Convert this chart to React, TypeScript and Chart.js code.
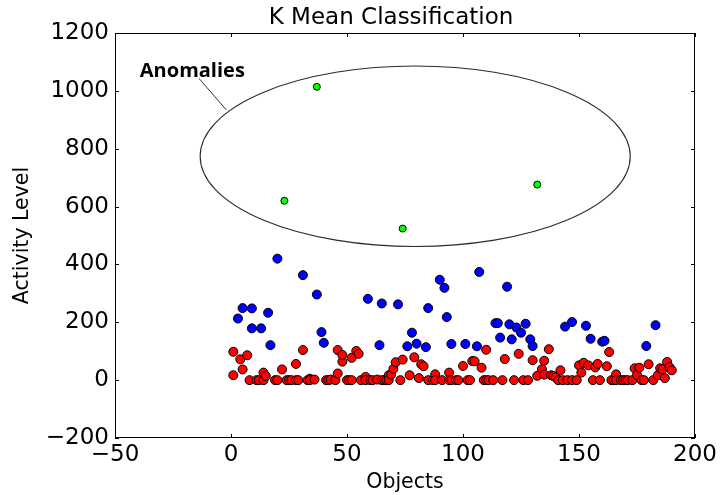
import React, { useEffect, useRef } from "react";
import { Chart, registerables } from "chart.js";

Chart.register(...registerables);

// Cluster 1 (low activity) — red
const redPoints: [number, number][] = [
  [1, 17], [1, 98], [4, 72], [5, 37], [7, 86], [8, 0], [11, 0], [12, 0], [14, 26], [14, 0],
  [15, 14], [19, 0], [20, 0], [22, 37], [24, 0], [25, 0], [26, 0], [28, 56], [28, 0], [29, 0],
  [31, 104], [33, 0], [34, 5], [34, 0], [36, 2], [41, 0], [42, 0], [43, 2], [45, 0], [46, 23],
  [46, 104], [48, 64], [48, 87], [50, 0], [51, 0], [52, 77], [52, 0], [54, 101], [55, 91], [56, 0],
  [58, 11], [58, 0], [60, 0], [61, 0], [63, 2], [65, 0], [66, 0], [67, 0], [68, 17], [68, 0],
  [69, 19], [70, 39], [71, 62], [73, 0], [74, 71], [77, 17], [79, 79], [81, 7], [82, 55], [83, 48],
  [85, 0], [87, 0], [88, 20], [88, 0], [91, 0], [94, 26], [94, 0], [95, 0], [97, 0], [98, 0],
  [100, 49], [102, 0], [103, 0], [104, 66], [105, 65], [108, 43], [109, 0], [110, 105], [110, 0], [111, 0],
  [113, 0], [117, 0], [118, 73], [122, 0], [124, 91], [126, 0], [128, 0], [130, 69], [132, 15], [134, 38],
  [135, 67], [135, 19], [137, 107], [138, 17], [139, 14], [140, 10], [141, 0], [142, 34], [143, 0], [145, 0],
  [147, 0], [149, 0], [150, 51], [151, 26], [152, 60], [154, 51], [156, 0], [157, 44], [158, 56], [159, 0],
  [162, 48], [163, 97], [164, 0], [165, 0], [166, 20], [166, 0], [168, 0], [169, 0], [170, 0], [171, 0],
  [173, 0], [174, 41], [175, 18], [176, 43], [177, 0], [178, 0], [180, 55], [182, 0], [184, 17], [185, 41],
  [186, 37], [187, 7], [188, 63], [189, 45], [190, 34],
];

// Cluster 2 (medium activity) — blue
const bluePoints: [number, number][] = [
  [3, 213], [5, 249], [9, 248], [9, 179], [13, 179], [16, 233], [17, 121], [20, 420], [31, 363], [37, 296],
  [39, 166], [40, 129], [59, 281], [64, 121], [65, 265], [72, 262], [76, 117], [78, 164], [80, 126], [84, 114],
  [85, 249], [90, 347], [92, 319], [93, 218], [95, 125], [101, 125], [106, 117], [107, 374], [114, 197], [115, 197],
  [116, 147], [119, 323], [120, 193], [121, 141], [123, 182], [125, 164], [127, 195], [129, 141], [130, 118], [144, 185],
  [147, 201], [153, 188], [155, 143], [160, 133], [161, 136], [179, 118], [183, 190],
];

// Cluster 3 (anomalies) — green
const greenPoints: [number, number][] = [
  [37, 1014], [23, 620], [74, 524], [132, 676],
];

const xTicks = [-50, 0, 50, 100, 150, 200];
const yTicks = [-200, 0, 200, 400, 600, 800, 1000, 1200];

const TITLE = "K Mean Classification";
const X_LABEL = "Objects";
const Y_LABEL = "Activity Level";
const ANNOTATION_TEXT = "Anomalies";

// Annotation geometry in data coordinates
const ELLIPSE = { cx: 79.4, cy: 774, rx: 92.7, ry: 312 };
const ANNOTATION_TEXT_AT = { x: -39.3, y: 1066 };
const POINTER = { x1: -13.8, y1: 1043, x2: -2.0, y2: 934 };

const FONT = '"DejaVu Sans", sans-serif';

const toXY = (arr: [number, number][]) => arr.map(([x, y]) => ({ x, y }));
const minus = (v: number) => String(v).replace("-", "\u2212");

const decorPlugin = {
  id: "decor",
  afterDatasetsDraw(chart: any) {
    const { ctx, chartArea: a, scales } = chart;
    const xs = scales.x;
    const ys = scales.y;
    ctx.save();

    // ellipse
    const cx = xs.getPixelForValue(ELLIPSE.cx);
    const cy = ys.getPixelForValue(ELLIPSE.cy);
    const rx = Math.abs(xs.getPixelForValue(ELLIPSE.cx + ELLIPSE.rx) - cx);
    const ry = Math.abs(ys.getPixelForValue(ELLIPSE.cy + ELLIPSE.ry) - cy);
    ctx.beginPath();
    ctx.ellipse(cx, cy, rx, ry, 0, 0, Math.PI * 2);
    ctx.strokeStyle = "#2a2a2a";
    ctx.lineWidth = 1.1;
    ctx.stroke();

    // pointer
    ctx.beginPath();
    ctx.moveTo(xs.getPixelForValue(POINTER.x1), ys.getPixelForValue(POINTER.y1));
    ctx.lineTo(xs.getPixelForValue(POINTER.x2), ys.getPixelForValue(POINTER.y2));
    ctx.strokeStyle = "#333";
    ctx.lineWidth = 1;
    ctx.stroke();

    // annotation text
    ctx.fillStyle = "#000";
    ctx.font = 'bold 20px "Open Sans", "DejaVu Sans", sans-serif';
    ctx.textAlign = "left";
    ctx.textBaseline = "middle";
    ctx.fillText(
      ANNOTATION_TEXT,
      xs.getPixelForValue(ANNOTATION_TEXT_AT.x),
      ys.getPixelForValue(ANNOTATION_TEXT_AT.y)
    );

    // frame
    ctx.strokeStyle = "#000";
    ctx.lineWidth = 1;
    ctx.strokeRect(a.left + 0.5, a.top + 0.5, a.right - a.left - 1, a.bottom - a.top - 1);

    // inward ticks on all four sides
    ctx.beginPath();
    const tl = 4;
    xTicks.forEach((v) => {
      const px = Math.round(xs.getPixelForValue(v)) + 0.5;
      ctx.moveTo(px, a.bottom);
      ctx.lineTo(px, a.bottom - tl);
      ctx.moveTo(px, a.top);
      ctx.lineTo(px, a.top + tl);
    });
    yTicks.forEach((v) => {
      const py = Math.round(ys.getPixelForValue(v)) + 0.5;
      ctx.moveTo(a.left, py);
      ctx.lineTo(a.left + tl, py);
      ctx.moveTo(a.right, py);
      ctx.lineTo(a.right - tl, py);
    });
    ctx.strokeStyle = "#000";
    ctx.stroke();

    // title
    ctx.font = `23px ${FONT}`;
    ctx.textAlign = "center";
    ctx.textBaseline = "middle";
    ctx.fillStyle = "#000";
    ctx.fillText(TITLE, 391, 18);

    ctx.restore();
  },
};

export default function App() {
  const ref = useRef<HTMLCanvasElement | null>(null);

  useEffect(() => {
    document.body.style.margin = "0";
    const canvas = ref.current;
    if (!canvas) return;

    const pointStyle = (color: string, r: number) => ({
      backgroundColor: color,
      borderColor: "#000",
      borderWidth: 1,
      pointRadius: r,
      pointHoverRadius: r,
    });

    const chart = new Chart(canvas, {
      type: "scatter",
      data: {
        datasets: [
          { label: "low", data: toXY(redPoints), ...pointStyle("#ff0000", 4.5) },
          { label: "medium", data: toXY(bluePoints), ...pointStyle("#0000ff", 4.5) },
          { label: "anomaly", data: toXY(greenPoints), ...pointStyle("#00ff00", 3.5) },
        ],
      },
      options: {
        animation: false,
        responsive: false,
        maintainAspectRatio: false,
        layout: { padding: { top: 33, right: 25, left: 0, bottom: 0 } },
        plugins: {
          legend: { display: false },
          tooltip: { enabled: false },
          title: { display: false },
        },
        scales: {
          x: {
            type: "linear",
            min: -50,
            max: 200,
            afterBuildTicks: (s: any) => {
              s.ticks = xTicks.map((value) => ({ value }));
            },
            afterFit: (s: any) => {
              s.height = 57;
            },
            grid: { display: false, drawTicks: false },
            border: { display: false },
            ticks: {
              color: "#000",
              font: { family: FONT, size: 23 },
              padding: 3,
              maxRotation: 0,
              callback: (v: any) => minus(Number(v)),
            },
            title: {
              display: true,
              text: X_LABEL,
              color: "#000",
              font: { family: FONT, size: 20.5 },
              padding: { top: 0, bottom: 0 },
            },
          },
          y: {
            type: "linear",
            min: -200,
            max: 1200,
            afterBuildTicks: (s: any) => {
              s.ticks = yTicks.map((value) => ({ value }));
            },
            afterFit: (s: any) => {
              s.width = 115;
            },
            grid: { display: false, drawTicks: false },
            border: { display: false },
            ticks: {
              color: "#000",
              font: { family: FONT, size: 23 },
              padding: 6,
              callback: (v: any) => minus(Number(v)),
            },
            title: {
              display: true,
              text: Y_LABEL,
              color: "#000",
              font: { family: FONT, size: 20.5 },
              padding: { top: 10, bottom: 0 },
            },
          },
        },
      },
      plugins: [decorPlugin],
    });

    return () => chart.destroy();
  }, []);

  return (
    <canvas
      ref={ref}
      width={720}
      height={495}
      style={{ display: "block", width: 720, height: 495 }}
    />
  );
}
